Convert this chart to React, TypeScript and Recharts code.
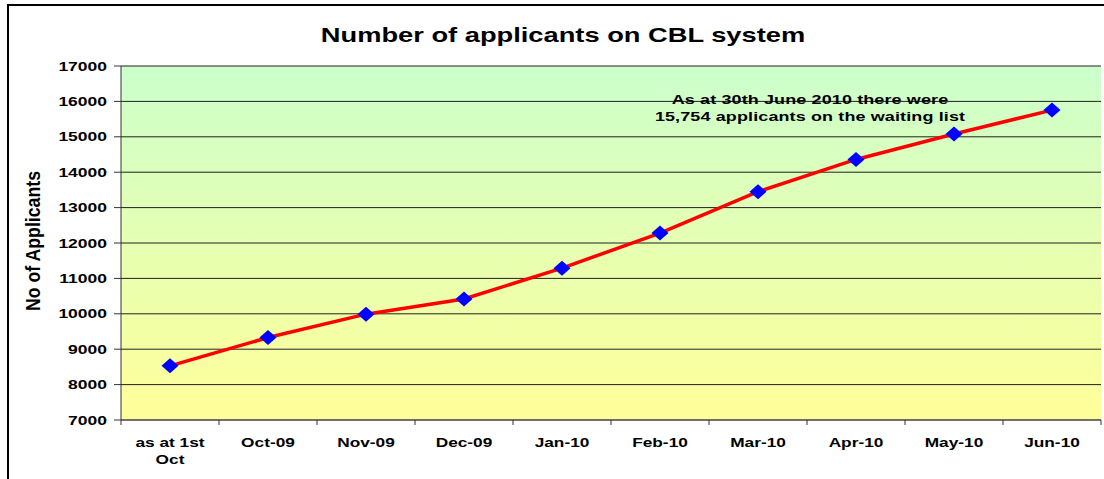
import React from "react";
import {
  LineChart, Line, XAxis, YAxis, CartesianGrid,
} from "recharts";

const months = [
  "as at 1st Oct", "Oct-09", "Nov-09", "Dec-09", "Jan-10",
  "Feb-10", "Mar-10", "Apr-10", "May-10", "Jun-10",
];
const applicants = [8530, 9330, 9990, 10420, 11290, 12280, 13450, 14360, 15080, 15754];
const yTicks = [7000, 8000, 9000, 10000, 11000, 12000, 13000, 14000, 15000, 16000, 17000];

const data = months.map((m, i) => ({ month: m, value: applicants[i] }));

const FONT = "'Liberation Sans', Arial, sans-serif";
// the source image is stretched sideways, so text is widened to match
const STRETCH = 1.33;

const Diamond = ({ cx, cy }: any) => {
  if (cx == null || cy == null) return null;
  return (
    <polygon
      points={`${cx},${cy - 7.5} ${cx + 8.5},${cy} ${cx},${cy + 7.5} ${cx - 8.5},${cy}`}
      fill="#0000ff"
    />
  );
};

const MonthTick = ({ x, y, payload, index }: any) => {
  const band = 98;
  const label: string = payload.value;
  let lines = [label];
  if (label.length > 9) {
    const k = label.lastIndexOf(" ");
    lines = [label.slice(0, k), label.slice(k + 1)];
  }
  return (
    <g>
      <line x1={x - band / 2} x2={x - band / 2} y1={y - 8} y2={y - 3} stroke="#333" />
      {index === months.length - 1 && (
        <line x1={x + band / 2} x2={x + band / 2} y1={y - 8} y2={y - 3} stroke="#333" />
      )}
      <text transform={`translate(${x},${y + 19}) scale(${STRETCH},1)`} textAnchor="middle" fontFamily={FONT} fontWeight="bold" fontSize={13} fill="#000">
        {lines.map((l, i) => (
          <tspan key={i} x={0} dy={i === 0 ? 0 : 17}>{l}</tspan>
        ))}
      </text>
    </g>
  );
};

const CountTick = ({ x, y, payload }: any) => (
  <text transform={`translate(${x - 1},${y + 4.5}) scale(1.4,1)`} textAnchor="end" fontFamily={FONT} fontWeight="bold" fontSize={12.5} fill="#000">
    {payload.value}
  </text>
);

export default function App() {
  return (
    <div style={{ position: "absolute", left: 0, top: 0, width: 1104, height: 479, background: "#fff", overflow: "hidden" }}>
      <div style={{ position: "absolute", left: 7, top: 4, width: 1110, height: 500, borderTop: "2px solid #000", borderLeft: "2px solid #000" }} />
      <div style={{ position: "absolute", left: 563, top: 35, transform: `translate(-50%, -50%) scale(${STRETCH}, 1)`, whiteSpace: "nowrap", fontFamily: FONT, fontWeight: "bold", fontSize: 20.5 }}>
        Number of applicants on CBL system
      </div>
      <div style={{ position: "absolute", left: 33, top: 241, transform: "translate(-50%, -50%) rotate(-90deg) scale(1.18, 1.35)", whiteSpace: "nowrap", fontFamily: FONT, fontWeight: "bold", fontSize: 15 }}>
        No of Applicants
      </div>
      <LineChart
        width={1104}
        height={479}
        data={data}
        margin={{ top: 66, right: 3, left: 0, bottom: 0 }}
        style={{ position: "absolute", left: 0, top: 0 }}
      >
        <defs>
          <linearGradient id="bg" x1="0" y1="0" x2="0" y2="1">
            <stop offset="0%" stopColor="#ccffcc" />
            <stop offset="100%" stopColor="#ffff99" />
          </linearGradient>
        </defs>
        <CartesianGrid vertical={false} stroke="#222" fill="url(#bg)" fillOpacity={1} />
        <XAxis
          dataKey="month"
          height={59}
          interval={0}
          padding={{ left: 49, right: 49 }}
          tickLine={false}
          axisLine={{ stroke: "#666", strokeWidth: 1.5 }}
          tick={<MonthTick />}
        />
        <XAxis xAxisId="top" orientation="top" dataKey="month" height={0} tick={false} tickLine={false} axisLine={{ stroke: "#999", strokeWidth: 1.5 }} />
        <YAxis
          width={121}
          domain={[7000, 17000]}
          ticks={yTicks}
          interval={0}
          tickSize={7}
          tickMargin={6}
          tickLine={{ stroke: "#333" }}
          axisLine={{ stroke: "#333", strokeWidth: 1 }}
          tick={<CountTick />}
        />
        <YAxis yAxisId="right" orientation="right" width={0} domain={[7000, 17000]} tick={false} tickLine={false} axisLine={{ stroke: "#999", strokeWidth: 1.5 }} />
        <Line
          dataKey="value"
          stroke="#ff0000"
          strokeWidth={3.5}
          dot={<Diamond />}
          activeDot={false}
          isAnimationActive={false}
        />
      </LineChart>
      <div style={{ position: "absolute", zIndex: 2, left: 810, top: 108, transform: `translate(-50%, -50%) scale(${STRETCH}, 1)`, whiteSpace: "nowrap", textAlign: "center", fontFamily: FONT, fontWeight: "bold", fontSize: 13.5, lineHeight: "17px", letterSpacing: 0.1 }}>
        As at 30th June 2010 there were<br />15,754 applicants on the waiting list
      </div>
    </div>
  );
}
